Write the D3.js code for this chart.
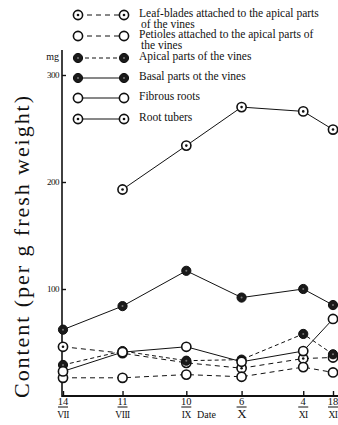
<!DOCTYPE html>
<html>
<head>
<meta charset="utf-8">
<script src="https://cdn.jsdelivr.net/npm/d3@7/dist/d3.min.js"></script>
<style>
  html, body { margin: 0; padding: 0; background: #fff; }
  svg { display: block; }
  text { font-family: "Liberation Serif", "DejaVu Serif", serif; fill: #111; }
</style>
</head>
<body>
<svg id="chart" width="338" height="425"></svg>
<script>
// Sampling dates (day-month) and their axis labels
const sampleDates = ["14-07", "11-08", "10-09", "06-10", "04-11", "18-11"];
const dayLabels = ["14", "11", "10", "6", "4", "18"];
const monthLabels = ["VII", "VIII", "IX", "X", "XI", "XI"];
const yTicks = [100, 200, 300];

// Content, mg per g fresh weight
const leafBlades = [46, 40, 31, 26, 35, 36];
const petioles   = [17, 17, 20, 18, 27, 22];
const apical     = [29, 42, 33, 34, 58, 39];
const basal      = [62, 84, 117, 92, 100, 85];
const fibrous    = [23, 41, 46, 32, 42, 72];
const rootTubers = [null, 193, 234, 270, 266, 249];

const seriesNames = [
  ["Leaf-blades attached to the apical parts", "of the vines"],
  ["Petioles attached to the apical parts of", "the vines"],
  ["Apical parts of the vines"],
  ["Basal parts ot the vines"],
  ["Fibrous roots"],
  ["Root tubers"]
];

const parse = d3.timeParse("%d-%m");
const dates = sampleDates.map(parse);

const series = [
  { values: leafBlades, marker: "dot",    dash: "5,4" },
  { values: petioles,   marker: "open",   dash: "5,4" },
  { values: apical,     marker: "filled", dash: "4,3" },
  { values: basal,      marker: "filled", dash: null },
  { values: fibrous,    marker: "open",   dash: null },
  { values: rootTubers, marker: "dot",    dash: null }
];

const svg = d3.select("#chart");

const x = d3.scaleTime().domain([dates[0], dates[dates.length - 1]]).range([63, 333]);
const y = d3.scaleLinear().domain([0, 300]).range([396, 75]);

// Axes frame
const axisX0 = 62;
svg.append("line").attr("x1", axisX0).attr("x2", axisX0).attr("y1", 50).attr("y2", 397)
  .attr("stroke", "#111").attr("stroke-width", 1.6);
svg.append("line").attr("x1", axisX0).attr("x2", 338).attr("y1", y(0)).attr("y2", y(0))
  .attr("stroke", "#111").attr("stroke-width", 1.8);

// Y ticks and labels
const yAxis = d3.axisRight(y).tickValues(yTicks).tickSize(4).tickFormat("");
const gy = svg.append("g").attr("transform", `translate(${axisX0},0)`).call(yAxis);
gy.select(".domain").remove();
gy.selectAll(".tick line").attr("stroke", "#111").attr("stroke-width", 1.4);
svg.selectAll(".ylab").data(yTicks).join("text")
  .attr("class", "ylab")
  .attr("x", axisX0 - 3).attr("y", d => y(d) + 3)
  .attr("text-anchor", "end").attr("font-size", 9)
  .attr("letter-spacing", -0.5)
  .text(d => d);
svg.append("text").attr("x", axisX0 - 3).attr("y", 60)
  .attr("text-anchor", "end").attr("font-size", 10).text("mg");

// X ticks and two-line date labels
const xAxis = d3.axisTop(x).tickValues(dates).tickSize(5).tickFormat("");
const gx = svg.append("g").attr("transform", `translate(0,${y(0)})`).call(xAxis);
gx.select(".domain").remove();
gx.selectAll(".tick line").attr("stroke", "#111").attr("stroke-width", 1.4);

const lab = svg.selectAll(".xlab").data(dates).join("g")
  .attr("class", "xlab")
  .attr("transform", d => `translate(${x(d)},0)`);
lab.append("text").attr("y", 405).attr("text-anchor", "middle").attr("font-size", 10.5)
  .text((d, i) => dayLabels[i]);
lab.append("line").attr("x1", -5).attr("x2", 5).attr("y1", 407).attr("y2", 407)
  .attr("stroke", "#111").attr("stroke-width", 1);
lab.append("text").attr("y", 418).attr("text-anchor", "middle")
  .attr("font-size", (d, i) => monthLabels[i] === "X" ? 13 : 9.5)
  .attr("letter-spacing", -0.5)
  .text((d, i) => monthLabels[i]);
svg.append("text").attr("x", 197).attr("y", 418).attr("font-size", 10).text("Date");

// Y axis title
svg.append("text")
  .attr("transform", "translate(29,247) rotate(-90)")
  .attr("text-anchor", "middle")
  .attr("font-size", 22)
  .attr("textLength", 302).attr("lengthAdjust", "spacing")
  .text("Content (per g fresh weight)");

// Marker drawing
function drawMarker(g, kind, r) {
  if (kind === "filled") {
    g.append("circle").attr("r", r).attr("fill", "#1a1a1a").attr("stroke", "#111").attr("stroke-width", 1);
    g.append("circle").attr("r", 1).attr("fill", "#777");
  } else {
    g.append("circle").attr("r", r).attr("fill", "#fff").attr("stroke", "#111").attr("stroke-width", 1.6);
    if (kind === "dot") g.append("circle").attr("r", 1.3).attr("fill", "#111");
  }
}

// Series lines and markers
const line = d3.line()
  .defined(d => d.v != null)
  .x(d => x(d.date))
  .y(d => y(d.v));

series.forEach(s => {
  const pts = dates.map((date, i) => ({ date, v: s.values[i] }));
  svg.append("path").datum(pts)
    .attr("d", line)
    .attr("fill", "none").attr("stroke", "#111").attr("stroke-width", 1)
    .attr("stroke-dasharray", s.dash);
});
series.forEach(s => {
  dates.forEach((date, i) => {
    if (s.values[i] == null) return;
    const g = svg.append("g").attr("transform", `translate(${x(date)},${y(s.values[i])})`);
    drawMarker(g, s.marker, 4.6);
  });
});

// Legend
const legendRows = [15, 36, 58, 78, 98, 119];
series.forEach((s, i) => {
  const ly = legendRows[i];
  svg.append("line").attr("x1", 78).attr("x2", 124).attr("y1", ly).attr("y2", ly)
    .attr("stroke", "#111").attr("stroke-width", 1)
    .attr("stroke-dasharray", s.dash);
  drawMarker(svg.append("g").attr("transform", `translate(78,${ly})`), s.marker, 4.6);
  drawMarker(svg.append("g").attr("transform", `translate(124,${ly})`), s.marker, 4.6);
  seriesNames[i].forEach((t, k) => {
    svg.append("text").attr("x", k === 0 ? 139 : 141).attr("y", ly + 2 + k * 10.5)
      .attr("font-size", 11.5).text(t);
  });
});
</script>
</body>
</html>
